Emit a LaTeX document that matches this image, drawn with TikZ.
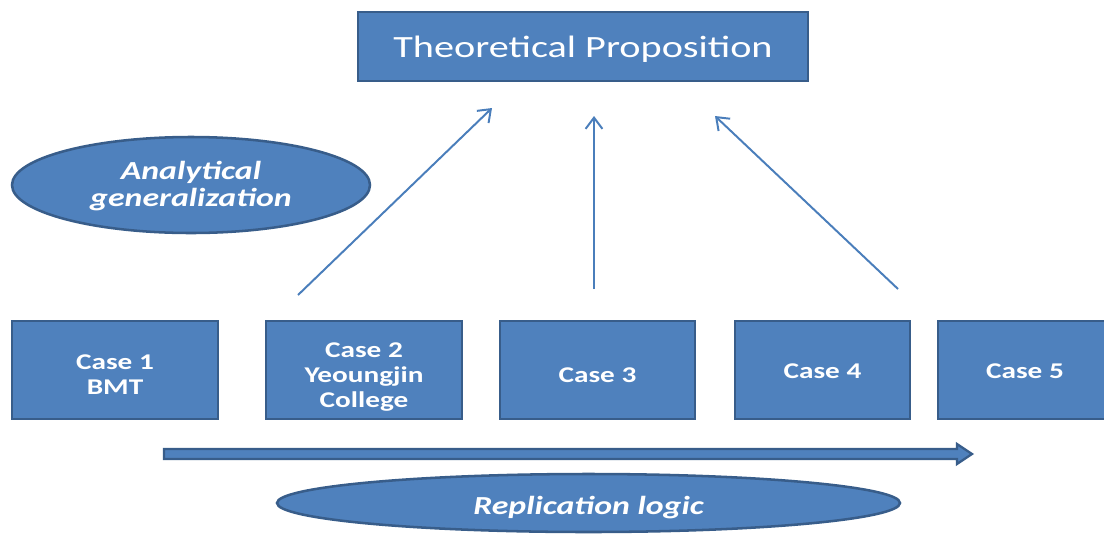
\documentclass[tikz,border=0pt]{standalone}
\usepackage{fontspec}
\setmainfont{Carlito}[FakeStretch=1.3]
\definecolor{mBoxBlue}{HTML}{4F81BD}
\definecolor{mEdgeBlue}{HTML}{385D8A}
\definecolor{mLineBlue}{HTML}{4A7EBB}
\usetikzlibrary{arrows.meta}
\usetikzlibrary{shapes.geometric}
\def\pxu{0.025cm}
% lifts the top of the first line, so the text sits lower in its box
\newcommand{\toppad}[1]{\rule{0pt}{#1}}

\begin{document}
\begin{tikzpicture}[x=0.025cm,y=-0.025cm,
    box/.style={draw=mEdgeBlue,fill=mBoxBlue,line width=2.1pt,text=white,
      align=center,inner sep=0pt,
      font=\bfseries\fontsize{16}{17.8}\selectfont},
    oval/.style={ellipse,draw=mEdgeBlue,fill=mBoxBlue,line width=1.8pt,text=white,
      align=center,inner sep=0pt,
      font=\bfseries\itshape\fontsize{18.5}{19.2}\selectfont},
    link/.style={mLineBlue,line width=1.4pt,-{Straight Barb[length=8pt,width=12pt,line width=1.4pt]}}]
        \useasboundingbox (0,0) rectangle (1104,534);

        % Proposition
        \node[box,minimum width=450*\pxu,minimum height=69*\pxu,
          font=\fontsize{22}{24}\selectfont] (prop) at (583,46.5) {\toppad{19.5pt}Theoretical Proposition};

        % Cases
        \node[box,minimum width=206*\pxu,minimum height=98*\pxu] (case1) at (115,370) {\toppad{16.7pt}Case 1\\BMT};
        \node[box,minimum width=196*\pxu,minimum height=98*\pxu] (case2) at (364,370) {\toppad{20.3pt}Case 2\\Yeoungjin\\College};
        \node[box,minimum width=195*\pxu,minimum height=98*\pxu] (case3) at (597.5,370) {\toppad{17.5pt}Case 3};
        \node[box,minimum width=175*\pxu,minimum height=98*\pxu] (case4) at (822.5,370) {\toppad{12pt}Case 4};
        \node[box,minimum width=180*\pxu,minimum height=98*\pxu] (case5) at (1028,370) {\toppad{12pt}\hspace*{-0.15cm}Case 5};

        % Labels
        \node[oval,minimum width=358*\pxu,minimum height=96*\pxu] (analytic) at (191,185) {\toppad{14pt}Analytical\\generalization};
        \node[oval,minimum width=623*\pxu,minimum height=58*\pxu] (replic) at (588.5,503) {\toppad{20pt}Replication logic};

        % Generalization arrows
        \coordinate (from2) at (298,295);
        \coordinate (to2) at (492,108);
        \coordinate (from3) at (594,289);
        \coordinate (to3) at (594,116);
        \coordinate (from4) at (898,289);
        \coordinate (to4) at (715,116);
        \draw[link] (from2) -- (to2);
        \draw[link] (from3) -- (to3);
        \draw[link] (from4) -- (to4);

        % Replication arrow
        \draw[draw=mEdgeBlue,fill=mBoxBlue,line width=1.6pt,line join=miter]
          (164,449) -- (957,449) -- (957,444) -- (972,454) -- (957,464) -- (957,459) -- (164,459) -- cycle;
      \end{tikzpicture}
\end{document}
